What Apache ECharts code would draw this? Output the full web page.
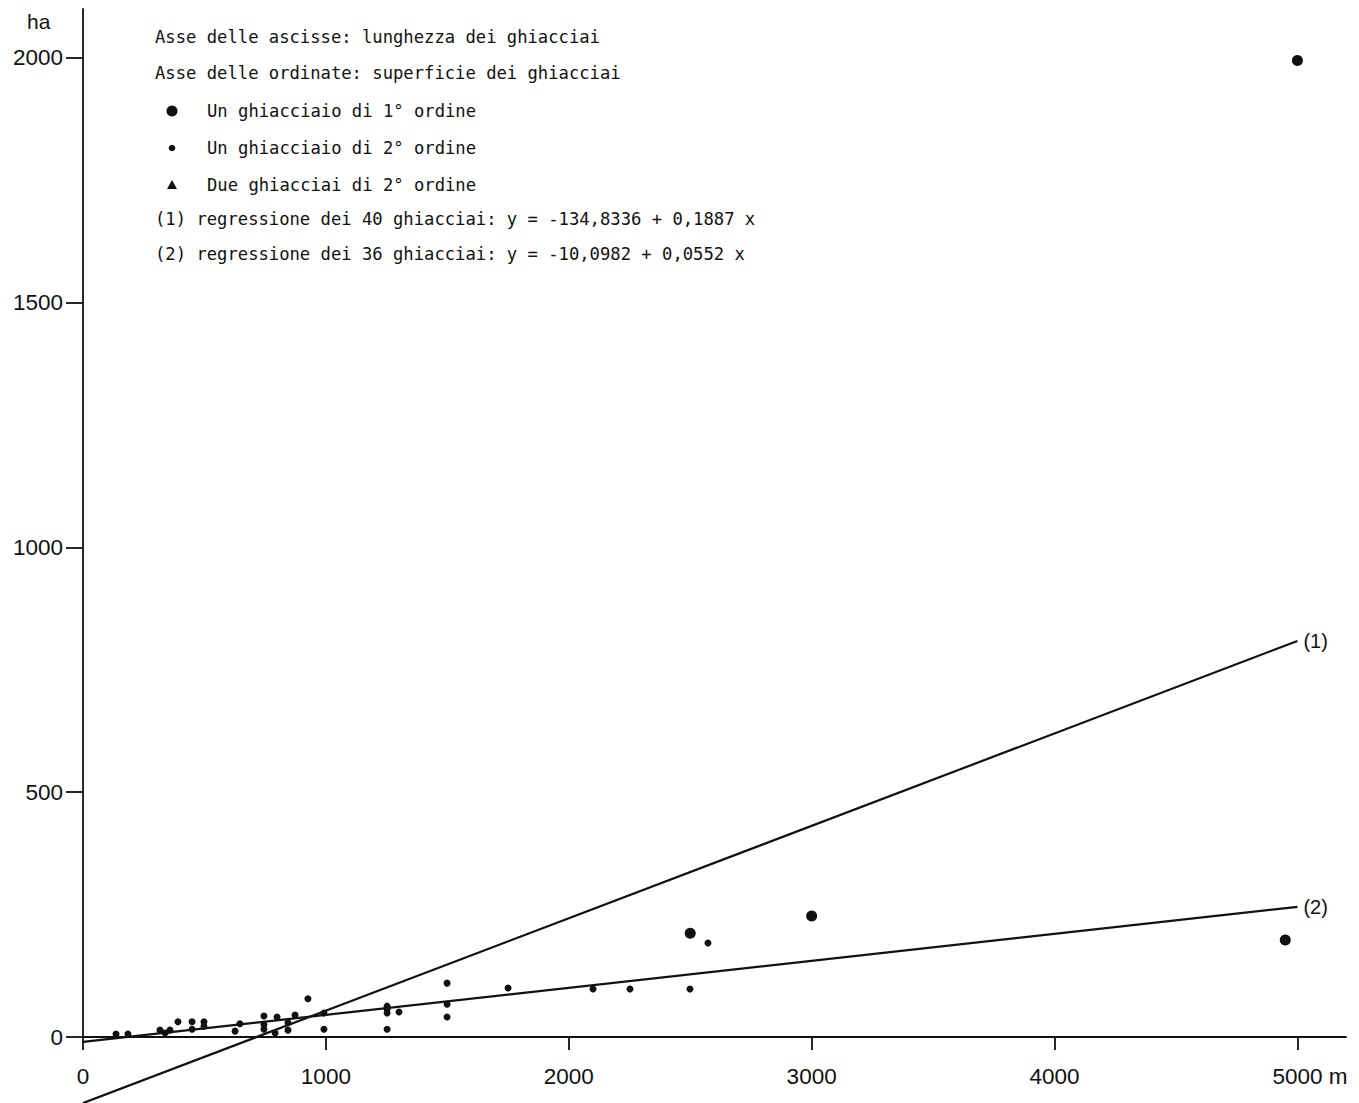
<!DOCTYPE html>
<html><head><meta charset="utf-8">
<script src="https://cdn.jsdelivr.net/npm/echarts@6/dist/echarts.min.js"></script>
<style>html,body{margin:0;padding:0;background:#fff}#c{width:1359px;height:1103px}</style>
</head><body><div id="c"></div>
<script>
// Values (x: glacier length in m, y: glacier surface in ha)
const firstOrder = [[2500, 212], [3000, 247], [4950, 198], [5000, 1995]];
const secondOrder = [
  [136, 6], [185, 6], [317, 14], [338, 8], [358, 14], [391, 31],
  [449, 31], [449, 16], [498, 31], [498, 22], [626, 12], [646, 27],
  [745, 43], [745, 25], [745, 16], [791, 8], [799, 41], [844, 29],
  [844, 14], [873, 45], [926, 78], [992, 49], [992, 16], [1252, 63],
  [1252, 57], [1252, 49], [1252, 16], [1301, 51], [1499, 110], [1499, 67],
  [1499, 41], [1750, 100], [2100, 98], [2252, 98], [2499, 98], [2573, 192]
];
const pairsSecondOrder = [];
const regression1 = [[0, -135], [5000, 809]];
const regression2 = [[0, -10], [5000, 266]];
const xTicks = [0, 1000, 2000, 3000, 4000, 5000];
const yTicks = [0, 500, 1000, 1500, 2000];
const headerLines = [
  'Asse delle ascisse: lunghezza dei ghiacciai',
  'Asse delle ordinate: superficie dei ghiacciai'
];
const symbolLines = [
  'Un ghiacciaio di 1° ordine',
  'Un ghiacciaio di 2° ordine',
  'Due ghiacciai di 2° ordine'
];
const regressionLines = [
  '(1) regressione dei 40 ghiacciai: y = -134,8336 + 0,1887 x',
  '(2) regressione dei 36 ghiacciai: y = -10,0982 + 0,0552 x'
];

const INK = '#111111';
const MONO = 'DejaVu Sans Mono';
const SANS = 'Liberation Sans';
const monoStyle = { fontFamily: MONO, fontSize: 17.2, fill: INK };

const graphics = [];
headerLines.forEach((t, i) => graphics.push({
  type: 'text', left: 155, top: [28, 64][i],
  style: Object.assign({ text: t }, monoStyle)
}));
symbolLines.forEach((t, i) => graphics.push({
  type: 'text', left: 207, top: [102, 139, 176][i],
  style: Object.assign({ text: t }, monoStyle)
}));
regressionLines.forEach((t, i) => graphics.push({
  type: 'text', left: 155, top: [210, 245][i],
  style: Object.assign({ text: t }, monoStyle)
}));
graphics.push({ type: 'circle', shape: { cx: 172, cy: 111, r: 5.5 }, style: { fill: INK } });
graphics.push({ type: 'circle', shape: { cx: 172, cy: 148, r: 3.3 }, style: { fill: INK } });
graphics.push({ type: 'polygon', shape: { points: [[172, 180], [167, 189], [177, 189]] }, style: { fill: INK } });
graphics.push({
  type: 'text', left: 27, top: 11,
  style: { text: 'ha', fontFamily: SANS, fontSize: 21, fill: INK }
});

const chart = echarts.init(document.getElementById('c'), null, { renderer: 'svg' });
chart.setOption({
  animation: false,
  backgroundColor: '#ffffff',
  grid: { left: 83, right: 13, top: 9, bottom: 66, containLabel: false },
  xAxis: {
    type: 'value', min: 0, max: 5200,
    axisLine: { show: true, onZero: false, lineStyle: { color: INK, width: 1.8 } },
    axisTick: { show: true, customValues: xTicks, length: 13, lineStyle: { color: INK, width: 1.8 } },
    axisLabel: {
      customValues: xTicks, margin: 28, color: INK, fontFamily: SANS, fontSize: 22.5,
      formatter: v => v === 5000 ? '{p|}5000{u| m}' : String(v),
      rich: {
        p: { width: 25, fontFamily: SANS, fontSize: 22.5 },
        u: { fontFamily: SANS, fontSize: 22.5, color: INK }
      }
    },
    splitLine: { show: false }
  },
  yAxis: {
    type: 'value', min: 0, max: 2100,
    axisLine: { show: true, onZero: false, lineStyle: { color: INK, width: 1.8 } },
    axisTick: { show: true, customValues: yTicks, length: 17, lineStyle: { color: INK, width: 1.8 } },
    axisLabel: {
      customValues: yTicks, margin: 20, color: INK, fontFamily: SANS, fontSize: 22.5,
      formatter: v => String(v)
    },
    splitLine: { show: false }
  },
  graphic: graphics,
  series: [
    {
      name: 'regressione 1', type: 'line', data: regression1, symbol: 'none', clip: false,
      lineStyle: { color: INK, width: 2.2 }, silent: true,
      endLabel: { show: true, formatter: '(1)', distance: 6, color: INK, fontFamily: SANS, fontSize: 20 }
    },
    {
      name: 'regressione 2', type: 'line', data: regression2, symbol: 'none', clip: false,
      lineStyle: { color: INK, width: 2.2 }, silent: true,
      endLabel: { show: true, formatter: '(2)', distance: 6, color: INK, fontFamily: SANS, fontSize: 20 }
    },
    {
      name: 'Un ghiacciaio di 1° ordine', type: 'scatter', data: firstOrder,
      symbol: 'circle', symbolSize: 11, itemStyle: { color: INK, opacity: 1 }
    },
    {
      name: 'Un ghiacciaio di 2° ordine', type: 'scatter', data: secondOrder,
      symbol: 'circle', symbolSize: 7, itemStyle: { color: INK, opacity: 1 }
    },
    {
      name: 'Due ghiacciai di 2° ordine', type: 'scatter', data: pairsSecondOrder,
      symbol: 'triangle', symbolSize: 9, itemStyle: { color: INK, opacity: 1 }
    }
  ]
});
</script>
</body></html>
